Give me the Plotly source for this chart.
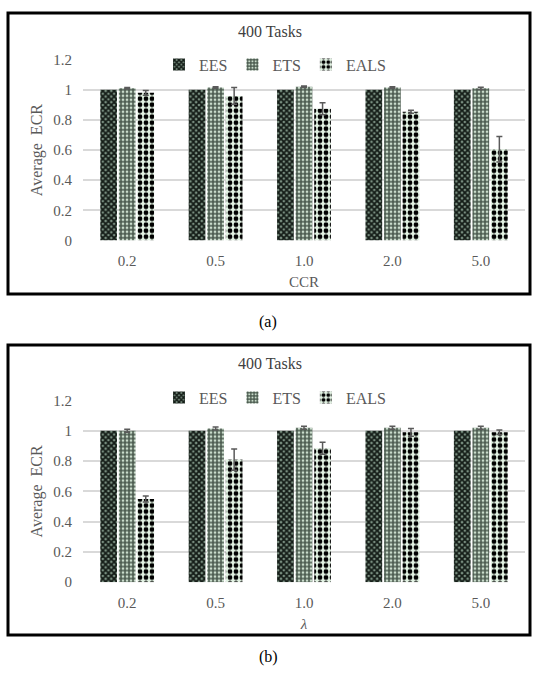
import plotly.graph_objects as go

# Figure size (pixels)
W, H = 537, 681

categories = ["0.2", "0.5", "1.0", "2.0", "5.0"]
series_names = ["EES", "ETS", "EALS"]

# Panel (a): varying CCR
ccr_ees = [1.0, 1.0, 1.0, 1.0, 1.0]
ccr_ets = [1.01, 1.015, 1.02, 1.015, 1.01]
ccr_eals = [0.98, 0.96, 0.875, 0.855, 0.605]
ccr_ets_err = [0.005, 0.005, 0.005, 0.005, 0.008]
ccr_eals_err = [0.015, 0.055, 0.04, 0.01, 0.085]

# Panel (b): varying lambda
lam_ees = [1.0, 1.0, 1.0, 1.0, 1.0]
lam_ets = [1.0, 1.015, 1.02, 1.02, 1.02]
lam_eals = [0.55, 0.81, 0.885, 0.99, 0.99]
lam_ets_err = [0.01, 0.01, 0.01, 0.01, 0.01]
lam_eals_err = [0.02, 0.07, 0.04, 0.025, 0.015]

y_ticks = [0, 0.2, 0.4, 0.6, 0.8, 1, 1.2]
y_tick_text = ["0", "0.2", "0.4", "0.6", "0.8", "1", "1.2"]

FONT = "Liberation Serif"
TICK_COLOR = "#595959"
GRID = "#d9d9d9"
ERR_COLOR = "#5a5a5a"

styles = {
    "EES": dict(shape="x", fgcolor="#141c17", bgcolor="#7c9283", size=4, solidity=0.7, fgopacity=1),
    "ETS": dict(shape="+", fgcolor="#46554a", bgcolor="#c9dccb", size=4, solidity=0.6, fgopacity=1),
    "EALS": dict(shape=".", fgcolor="#000000", bgcolor="#e2f2e3", size=6, solidity=0.5, fgopacity=1),
}


def px_x(p):
    return p / W


def px_y(p):
    return 1 - p / H


fig = go.Figure()


def add_panel(vals, errs, xa, ya, legend):
    for name, v, e in zip(series_names, vals, errs):
        err = None
        if e is not None:
            err = dict(type="data", array=e, visible=True, color=ERR_COLOR,
                       thickness=1.5, width=3)
        fig.add_trace(go.Bar(
            x=categories, y=v, name=name, xaxis=xa, yaxis=ya, legend=legend,
            marker=dict(color=styles[name]["bgcolor"], line=dict(width=0),
                        pattern=styles[name]),
            error_y=err,
        ))


add_panel([ccr_ees, ccr_ets, ccr_eals], [None, ccr_ets_err, ccr_eals_err], "x", "y", "legend")
add_panel([lam_ees, lam_ets, lam_eals], [None, lam_ets_err, lam_eals_err], "x2", "y2", "legend2")

x_dom = [px_x(83), px_x(525)]
axis_common = dict(
    tickfont=dict(family=FONT, size=15, color=TICK_COLOR),
    showline=False, zeroline=False,
)
yaxis_common = dict(
    range=[0, 1.2], tickvals=y_ticks, ticktext=y_tick_text,
    showgrid=True, gridcolor=GRID, gridwidth=1.5,
    ticklabelstandoff=10, fixedrange=True,
    title=dict(text="Average  ECR", font=dict(family=FONT, size=16, color=TICK_COLOR), standoff=6),
    **axis_common,
)
xaxis_common = dict(showgrid=False, ticks="", ticklabelstandoff=10, **axis_common)

legend_common = dict(
    orientation="h", xanchor="center", yanchor="middle",
    font=dict(family=FONT, size=16, color=TICK_COLOR),
    bgcolor="rgba(0,0,0,0)", itemwidth=30, tracegroupgap=0,
)

fig.update_layout(
    width=W, height=H,
    margin=dict(l=0, r=0, t=0, b=0),
    paper_bgcolor="white", plot_bgcolor="white",
    barmode="group", bargap=0.37, bargroupgap=0.1,
    showlegend=True,
    xaxis=dict(domain=x_dom, anchor="y",
               title=dict(text="CCR", font=dict(family=FONT, size=15, color=TICK_COLOR), standoff=8),
               **xaxis_common),
    yaxis=dict(domain=[px_y(238), px_y(53)], anchor="x", **yaxis_common),
    xaxis2=dict(domain=x_dom, anchor="y2",
                title=dict(text="<i>λ</i>", font=dict(family=FONT, size=15, color=TICK_COLOR), standoff=8),
                **xaxis_common),
    yaxis2=dict(domain=[px_y(588), px_y(402)], anchor="x2", **yaxis_common),
    legend=dict(x=px_x(275), y=px_y(58), **legend_common),
    legend2=dict(x=px_x(275), y=px_y(399), **legend_common),
)

# Panel frames
for top, bottom in [(5, 293), (345, 642)]:
    fig.add_shape(type="rect", xref="paper", yref="paper",
                  x0=px_x(8), x1=px_x(530), y0=px_y(bottom), y1=px_y(top),
                  line=dict(color="black", width=3), fillcolor="rgba(0,0,0,0)")

# Titles and panel captions
for text, yy in [("400 Tasks", 24), ("400 Tasks", 364)]:
    fig.add_annotation(text=text, xref="paper", yref="paper", x=px_x(270), y=px_y(yy),
                       showarrow=False, xanchor="center", yanchor="middle",
                       font=dict(family=FONT, size=16, color="#404040"))
for text, yy in [("(a)", 322), ("(b)", 665)]:
    fig.add_annotation(text=text, xref="paper", yref="paper", x=px_x(268), y=px_y(yy),
                       showarrow=False, xanchor="center", yanchor="middle",
                       font=dict(family=FONT, size=16, color="black"))

fig.write_html("out.html")
